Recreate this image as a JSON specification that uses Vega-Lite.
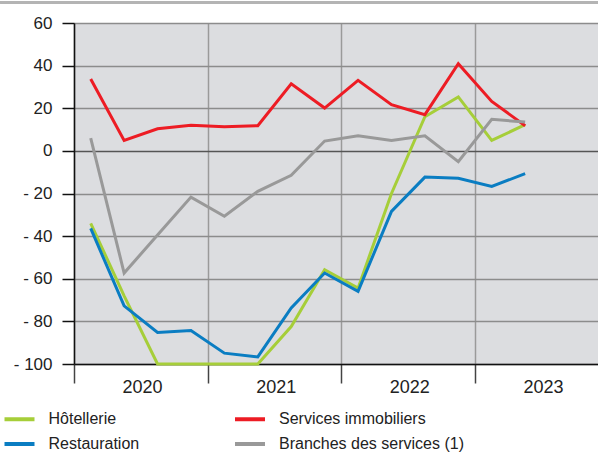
{
  "$schema": "https://vega.github.io/schema/vega-lite/v6.json",
  "width": 524,
  "height": 341,
  "autosize": {"type": "none"},
  "padding": {"left": 74, "top": 23, "right": 0, "bottom": 88},
  "background": "white",
  "config": {
    "view": {"fill": "#dcdde0", "stroke": null},
    "font": "Liberation Sans"
  },
  "data": {
    "values": [
      {"t": 2020.125, "s": "Hôtellerie", "v": -34},
      {"t": 2020.375, "s": "Hôtellerie", "v": -68},
      {"t": 2020.625, "s": "Hôtellerie", "v": -100},
      {"t": 2020.875, "s": "Hôtellerie", "v": -100},
      {"t": 2021.125, "s": "Hôtellerie", "v": -100},
      {"t": 2021.375, "s": "Hôtellerie", "v": -100},
      {"t": 2021.625, "s": "Hôtellerie", "v": -82.4},
      {"t": 2021.875, "s": "Hôtellerie", "v": -55.8},
      {"t": 2022.125, "s": "Hôtellerie", "v": -64.4},
      {"t": 2022.375, "s": "Hôtellerie", "v": -20},
      {"t": 2022.625, "s": "Hôtellerie", "v": 16},
      {"t": 2022.875, "s": "Hôtellerie", "v": 25.3},
      {"t": 2023.125, "s": "Hôtellerie", "v": 4.9},
      {"t": 2023.375, "s": "Hôtellerie", "v": 12.3},
      {"t": 2020.125, "s": "Restauration", "v": -36.4},
      {"t": 2020.375, "s": "Restauration", "v": -72.7},
      {"t": 2020.625, "s": "Restauration", "v": -85.2},
      {"t": 2020.875, "s": "Restauration", "v": -84.3},
      {"t": 2021.125, "s": "Restauration", "v": -94.9},
      {"t": 2021.375, "s": "Restauration", "v": -96.7},
      {"t": 2021.625, "s": "Restauration", "v": -73.7},
      {"t": 2021.875, "s": "Restauration", "v": -57.3},
      {"t": 2022.125, "s": "Restauration", "v": -65.9},
      {"t": 2022.375, "s": "Restauration", "v": -28.4},
      {"t": 2022.625, "s": "Restauration", "v": -12.3},
      {"t": 2022.875, "s": "Restauration", "v": -12.9},
      {"t": 2023.125, "s": "Restauration", "v": -16.7},
      {"t": 2023.375, "s": "Restauration", "v": -10.7},
      {"t": 2020.125, "s": "Services immobiliers", "v": 33.7},
      {"t": 2020.375, "s": "Services immobiliers", "v": 4.9},
      {"t": 2020.625, "s": "Services immobiliers", "v": 10.4},
      {"t": 2020.875, "s": "Services immobiliers", "v": 12},
      {"t": 2021.125, "s": "Services immobiliers", "v": 11.3},
      {"t": 2021.375, "s": "Services immobiliers", "v": 11.8},
      {"t": 2021.625, "s": "Services immobiliers", "v": 31.5},
      {"t": 2021.875, "s": "Services immobiliers", "v": 20.1},
      {"t": 2022.125, "s": "Services immobiliers", "v": 33.1},
      {"t": 2022.375, "s": "Services immobiliers", "v": 21.7},
      {"t": 2022.625, "s": "Services immobiliers", "v": 17},
      {"t": 2022.875, "s": "Services immobiliers", "v": 40.9},
      {"t": 2023.125, "s": "Services immobiliers", "v": 23.2},
      {"t": 2023.375, "s": "Services immobiliers", "v": 11.8},
      {"t": 2020.125, "s": "Branches des services (1)", "v": 6},
      {"t": 2020.375, "s": "Branches des services (1)", "v": -57.3},
      {"t": 2020.625, "s": "Branches des services (1)", "v": -39.5},
      {"t": 2020.875, "s": "Branches des services (1)", "v": -21.7},
      {"t": 2021.125, "s": "Branches des services (1)", "v": -30.7},
      {"t": 2021.375, "s": "Branches des services (1)", "v": -19},
      {"t": 2021.625, "s": "Branches des services (1)", "v": -11.5},
      {"t": 2021.875, "s": "Branches des services (1)", "v": 4.6},
      {"t": 2022.125, "s": "Branches des services (1)", "v": 7.1},
      {"t": 2022.375, "s": "Branches des services (1)", "v": 4.9},
      {"t": 2022.625, "s": "Branches des services (1)", "v": 7.1},
      {"t": 2022.875, "s": "Branches des services (1)", "v": -5.1},
      {"t": 2023.125, "s": "Branches des services (1)", "v": 14.8},
      {"t": 2023.375, "s": "Branches des services (1)", "v": 13.5}
    ]
  },
  "layer": [
    {
      "mark": {"type": "line", "strokeWidth": 3, "strokeJoin": "miter"},
      "encoding": {
        "x": {
          "field": "t", "type": "quantitative",
          "scale": {"domain": [2020, 2023.92], "nice": false, "zero": false},
          "axis": {
            "title": null, "values": [2020, 2021, 2022, 2023], "format": "d",
            "grid": true, "gridColor": "#9a9a9a", "gridWidth": 1.5,
            "tickSize": 19, "tickColor": "#444", "tickWidth": 1.5,
            "domainColor": "#111", "domainWidth": 1.5,
            "labelOffset": 68, "labelPadding": -5, "labelFlush": false,
            "labelFontSize": 18, "labelColor": "#222", "labelOverlap": false
          }
        },
        "y": {
          "field": "v", "type": "quantitative",
          "scale": {"domain": [-100, 60], "nice": false},
          "axis": {
            "title": null, "values": [-100, -80, -60, -40, -20, 0, 20, 40, 60],
            "labelExpr": "datum.value < 0 ? '- ' + abs(datum.value) : '' + datum.value",
            "grid": true,
            "gridColor": {"condition": {"test": "datum.value === 0", "value": "#555555"}, "value": "#8c8c8c"},
            "gridWidth": 1.5,
            "tickSize": 12, "tickColor": "#111", "tickWidth": 1.5,
            "domainColor": "#111", "domainWidth": 1.5,
            "labelPadding": 10, "labelFontSize": 17, "labelColor": "#222"
          }
        },
        "color": {
          "field": "s", "type": "nominal",
          "scale": {
            "domain": ["Hôtellerie", "Restauration", "Services immobiliers", "Branches des services (1)"],
            "range": ["#a6ce39", "#0a7dc2", "#ed1c24", "#999999"]
          },
          "legend": {
            "orient": "none", "legendX": -64, "legendY": 386.5,
            "columns": 2, "title": null,
            "symbolType": "M-2,0H2", "symbolSize": 225, "symbolStrokeWidth": 4,
            "labelFontSize": 16, "labelOffset": 19.5, "labelColor": "#222", "labelLimit": 300,
            "columnPadding": 86.5, "rowPadding": 7, "padding": 0
          }
        }
      }
    },
    {
      "mark": {"type": "rule", "color": "#b4b4b4", "strokeWidth": 2, "clip": false},
      "encoding": {
        "x": {"datum": 2019.4465, "type": "quantitative"},
        "x2": {"datum": 2023.92},
        "y": {"datum": 69.75, "type": "quantitative"}
      }
    }
  ]
}
